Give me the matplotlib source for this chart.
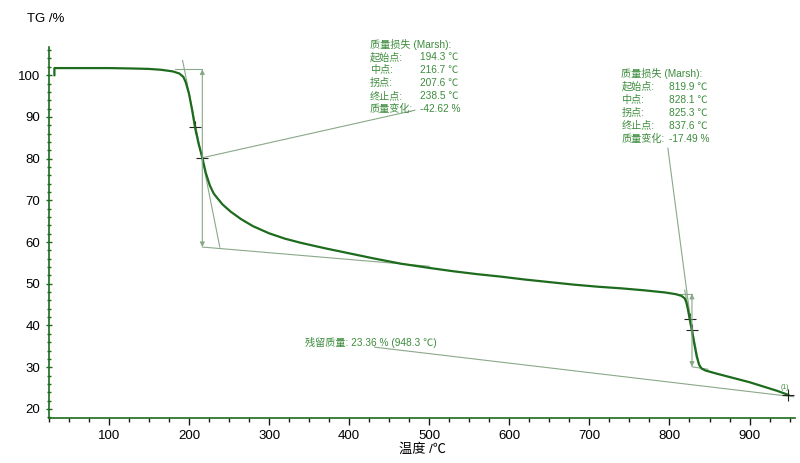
import matplotlib
matplotlib.use('Agg')
import matplotlib.pyplot as plt
from matplotlib.ticker import MultipleLocator

plt.rcParams['font.family'] = ['Liberation Sans', 'Noto Sans CJK SC', 'DejaVu Sans']

# TG curve
temp = [32, 32, 60, 100, 130, 150, 165, 180, 188, 193, 196, 200, 204, 207.6, 212,
        216.7, 221, 226, 231, 236, 242, 252, 265, 280, 300, 320, 340, 370, 400,
        430, 465, 500, 530, 560, 590, 620, 650, 680, 710, 740, 770, 795, 808,
        815, 819, 821, 823, 825.3, 828.1, 831, 834, 837, 840, 845, 860, 880,
        900, 920, 935, 948.3]
tg = [100.0, 101.7, 101.7, 101.7, 101.6, 101.5, 101.3, 100.9, 100.4, 99.6,
      98.3, 95.6, 91.6, 87.5, 83.6, 80.2, 76.6, 73.6, 71.6, 70.4, 69.0, 67.3,
      65.5, 63.8, 62.1, 60.8, 59.8, 58.5, 57.3, 56.1, 54.8, 53.8, 53.0, 52.3,
      51.7, 51.0, 50.4, 49.8, 49.3, 48.9, 48.4, 47.9, 47.5, 47.1, 46.5, 45.6,
      43.9, 41.5, 38.7, 35.6, 32.6, 30.6, 29.7, 29.2, 28.4, 27.4, 26.4, 25.2,
      24.3, 23.36]

# Marsh step evaluation
step1 = {'onset': 194.3, 'mid': 216.7, 'infl': 207.6, 'end': 238.5, 'top': 101.4, 'bottom': 58.8}
step2 = {'onset': 819.9, 'mid': 828.1, 'infl': 825.3, 'end': 837.6, 'top': 47.6, 'bottom': 30.1}
step_text = ['质量损失 (Marsh):', '起始点:', '中点:', '拐点:', '终止点:', '质量变化:']
step1_vals = ['', '194.3 ℃', '216.7 ℃', '207.6 ℃', '238.5 ℃', '-42.62 %']
step2_vals = ['', '819.9 ℃', '828.1 ℃', '825.3 ℃', '837.6 ℃', '-17.49 %']
residue_text = '残留质量: 23.36 % (948.3 ℃)'
residue = (948.3, 23.36)

curve_c = '#1d6b1d'
line_c = '#8aa88a'
text_c = '#3c8c3c'

fig = plt.figure(figsize=(8, 4.63), dpi=100)
ax = fig.add_axes([0.061, 0.097, 0.933, 0.801])

# annotation lines for each step
for s, lower_end in [(step1, (500, 54.2)), (step2, (848, 29.5))]:
    ax.plot([s['onset'] - 12, s['mid']], [s['top'], s['top']], color=line_c, lw=0.8)
    ax.plot([s['onset'] - (s['end'] - s['onset']) * 0.05, s['end']],
            [s['top'] + (s['top'] - s['bottom']) * 0.05, s['bottom']], color=line_c, lw=0.8)
    ax.plot([s['mid'], lower_end[0]], [s['bottom'], lower_end[1]], color=line_c, lw=0.8)
    ax.annotate('', xy=(s['mid'], s['bottom']), xytext=(s['mid'], s['top']),
                arrowprops=dict(arrowstyle='<|-|>', color=line_c, lw=0.8,
                                mutation_scale=7, shrinkA=0, shrinkB=0))
    mid_v = (s['top'] + s['bottom']) / 2
    ax.plot([s['infl']], [tg[temp.index(s['infl'])]], marker='+', color='#222222', ms=8, mew=0.8)
    ax.plot([s['mid']], [mid_v], marker='+', color='#222222', ms=8, mew=0.8)

# leader lines to the labels
ax.plot([step1['mid'], 482], [80.2, 91.6], color=line_c, lw=0.8)
ax.plot([step2['mid'], 798], [38.8, 82.5], color=line_c, lw=0.8)
ax.plot([432, 955], [34.8, 22.9], color=line_c, lw=0.8)

ax.plot(temp, tg, color=curve_c, lw=1.6)
ax.plot([residue[0]], [residue[1]], marker='+', color='#222222', ms=8, mew=0.8)
ax.text(944, 24.3, '(1)', fontsize=5, color=text_c, ha='center', va='bottom')

# label blocks
for x0, x1, y0, vals in [(426, 489, 107.4, step1_vals), (740, 800, 100.3, step2_vals)]:
    for i, (t, v) in enumerate(zip(step_text, vals)):
        y = y0 - i * 3.1
        ax.text(x0, y, t, fontsize=7.3, color=text_c, va='center')
        if v:
            ax.text(x1, y, v, fontsize=7.3, color=text_c, va='center')
ax.text(345, 35.8, residue_text, fontsize=7.3, color=text_c, va='center')

ax.set_xlim(25, 957)
ax.set_ylim(17.8, 106.7)
ax.xaxis.set_major_locator(MultipleLocator(100))
ax.xaxis.set_minor_locator(MultipleLocator(25))
ax.yaxis.set_major_locator(MultipleLocator(10))
ax.yaxis.set_minor_locator(MultipleLocator(2))
for side in ['top', 'right']:
    ax.spines[side].set_visible(False)
for side in ['left', 'bottom']:
    ax.spines[side].set_color(curve_c)
    ax.spines[side].set_linewidth(1.2)
ax.tick_params(which='major', length=5, width=1, color='#1a1a1a', labelsize=9.5)
ax.tick_params(which='minor', length=3, width=1, color='#1a1a1a')
ax.tick_params(axis='y', which='both', direction='inout', color=curve_c)
ax.set_xticks([100, 200, 300, 400, 500, 600, 700, 800, 900])

ax.set_xlabel('温度 /℃', fontsize=9.5, labelpad=1)
fig.text(0.034, 0.96, 'TG /%', fontsize=9.5, va='center')

fig.savefig('out.png', dpi=100)
